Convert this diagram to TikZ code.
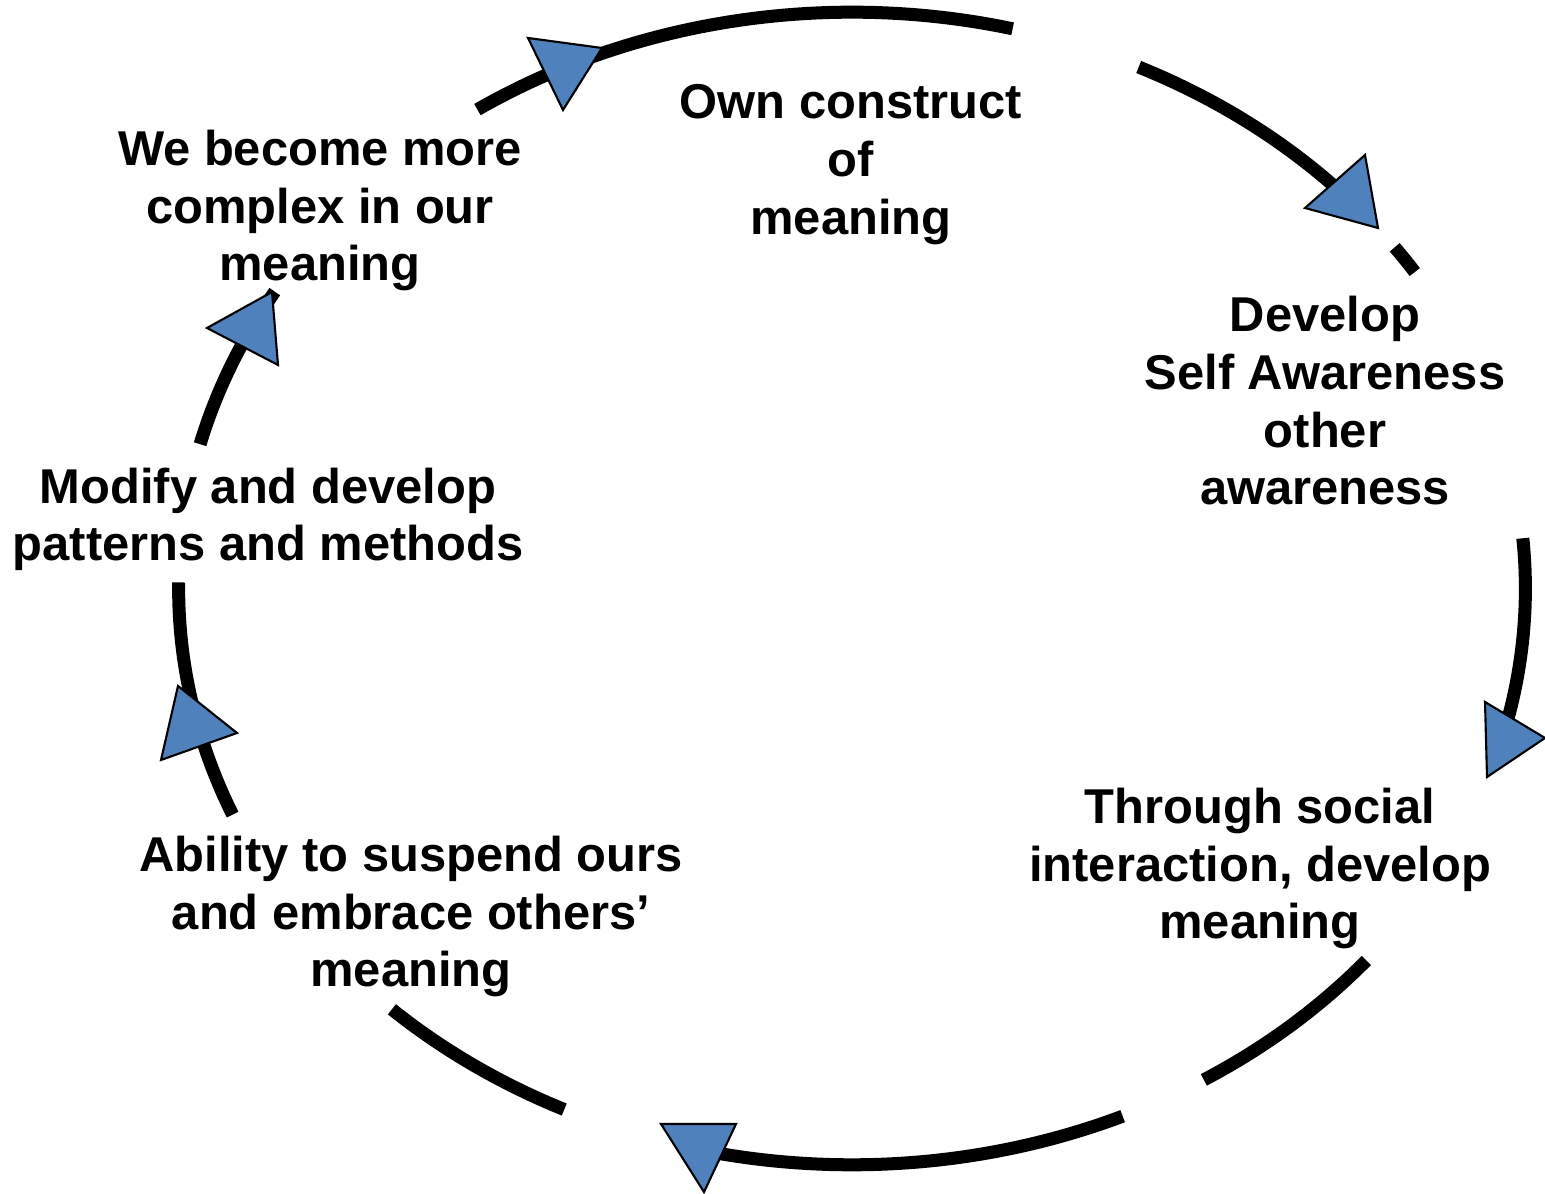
\documentclass[tikz,border=0pt]{standalone}
\usepackage{fontspec}
\setmainfont{Liberation Sans}
\usepackage{xcolor}
\usetikzlibrary{positioning,calc}

\definecolor{tipblue}{HTML}{4F81BD}
\tikzset{
  lbl/.style={align=center, inner sep=0pt, font=\fontsize{13.9pt}{16.4pt}\selectfont\bfseries},
  ring/.style={line width=0.13cm, black, x radius=6.73cm, y radius=5.76cm},
  arrowtri/.style={fill=tipblue, draw=black, line width=0.6pt, line join=miter},
}

\begin{document}
\begin{tikzpicture}[x=0.01cm, y=0.01cm]
    \useasboundingbox (0,0) rectangle (1545,1194);
    \coordinate (mid) at (852,605.5);
    % Stages
    \node[lbl] (own) at (851,1029.5) {Own construct\\of\\meaning};
    \node[lbl] (aware) at (1325,793) {Develop\\Self Awareness\\other\\awareness};
    \node[lbl] (social) at (1260,325.5) {Through social\\interaction, develop\\meaning};
    \node[lbl] (suspend) at (411,277.5) {Ability to suspend ours\\and embrace others’\\meaning};
    \node[lbl] (modify) at (268,674.5) {Modify and develop\\patterns and methods};
    \node[lbl] (complex) at (320,983.5) {We become more\\complex in our\\meaning};
    % Ring
    \draw[ring] (mid) ++(123.8:6.73cm and 5.76cm) arc[start angle=123.8, end angle=76.2]; % top
    \draw[ring] (mid) ++(64.8:6.73cm and 5.76cm) arc[start angle=64.8, end angle=42];
    \draw[ring] (mid) ++(36.3:6.73cm and 5.76cm) arc[start angle=36.3, end angle=33.3];
    \draw[ring] (mid) ++(5:6.73cm and 5.76cm) arc[start angle=5, end angle=-15]; % right
    \draw[ring] (mid) ++(-40.2:6.73cm and 5.76cm) arc[start angle=-40.2, end angle=-58.5];
    \draw[ring] (mid) ++(-66.3:6.73cm and 5.76cm) arc[start angle=-66.3, end angle=-102.2]; % bottom
    \draw[ring] (mid) ++(-115.3:6.73cm and 5.76cm) arc[start angle=-115.3, end angle=-133.1];
    \draw[ring] (mid) ++(203.1:6.73cm and 5.76cm) arc[start angle=203.1, end angle=179.4]; % left
    \draw[ring] (mid) ++(165.5:6.73cm and 5.76cm) arc[start angle=165.5, end angle=149];
    % Heads
    \filldraw[arrowtri] (528,1156) -- (602,1146) -- (563,1084) -- cycle;
    \filldraw[arrowtri] (1365,1039) -- (1305,986) -- (1378,966) -- cycle;
    \filldraw[arrowtri] (1485,492) -- (1545,456) -- (1487,417) -- cycle;
    \filldraw[arrowtri] (661,70) -- (736,70) -- (704,2) -- cycle;
    \filldraw[arrowtri] (178,508) -- (237,461) -- (161,434) -- cycle;
    \filldraw[arrowtri] (272,902) -- (207,866) -- (278,829) -- cycle;
\end{tikzpicture}
\end{document}
